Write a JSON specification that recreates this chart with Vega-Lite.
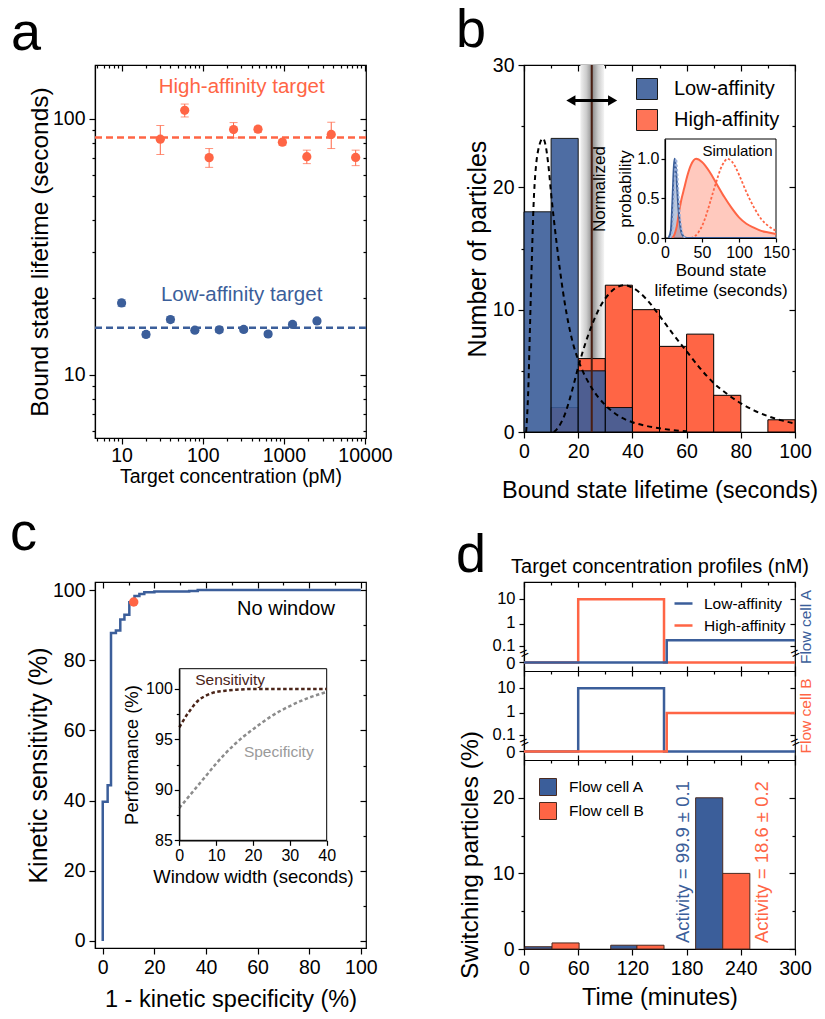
{
"$schema": "https://vega.github.io/schema/vega-lite/v6.json",
"padding": {"left": 9, "top": 3, "right": 0, "bottom": 0},
"config": {
 "font": "Liberation Sans",
 "view": {"stroke": "black", "strokeWidth": 1.2},
 "axis": {"grid": false, "domainColor": "black", "domainWidth": 1.2, "tickColor": "black", "tickWidth": 1.2, "labelColor": "black", "titleColor": "black", "labelFontSize": 19.5, "titleFontSize": 23.5, "titleFontWeight": "normal", "labelFlush": false, "labelOverlap": false, "labelPadding": 4, "titlePadding": 6},
 "legend": {"labelColor": "black"},
 "title": {"color": "black", "fontWeight": "normal", "fontSize": 54, "anchor": "start", "frame": "group", "baseline": "alphabetic"},
 "text": {"color": "black"}
},
"datasets": {
 "aPts": [
  {"conc": 30, "t": 83.1, "lo": 72.4, "hi": 94.0, "target": "High"},
  {"conc": 60, "t": 107.8, "lo": 101.5, "hi": 114.0, "target": "High"},
  {"conc": 120, "t": 70.4, "lo": 64.5, "hi": 76.4, "target": "High"},
  {"conc": 240, "t": 90.6, "lo": 84.1, "hi": 96.5, "target": "High"},
  {"conc": 480, "t": 90.9, "lo": 88.5, "hi": 93.3, "target": "High"},
  {"conc": 960, "t": 80.9, "lo": 78.8, "hi": 83.0, "target": "High"},
  {"conc": 1920, "t": 71.0, "lo": 66.7, "hi": 75.3, "target": "High"},
  {"conc": 3840, "t": 86.7, "lo": 76.4, "hi": 96.8, "target": "High"},
  {"conc": 7680, "t": 70.5, "lo": 65.5, "hi": 75.3, "target": "High"},
  {"conc": 10, "t": 19.05, "lo": 18.5, "hi": 19.6, "target": "Low"},
  {"conc": 20, "t": 14.35, "lo": 14.0, "hi": 14.7, "target": "Low"},
  {"conc": 40, "t": 16.4, "lo": 16.0, "hi": 16.8, "target": "Low"},
  {"conc": 80, "t": 14.9, "lo": 14.6, "hi": 15.2, "target": "Low"},
  {"conc": 160, "t": 14.95, "lo": 14.6, "hi": 15.3, "target": "Low"},
  {"conc": 320, "t": 15.0, "lo": 14.7, "hi": 15.3, "target": "Low"},
  {"conc": 640, "t": 14.4, "lo": 14.1, "hi": 14.7, "target": "Low"},
  {"conc": 1280, "t": 15.7, "lo": 15.4, "hi": 16.0, "target": "Low"},
  {"conc": 2560, "t": 16.2, "lo": 15.9, "hi": 16.5, "target": "Low"}
 ],
 "aMean": [{"target": "High", "t": 84.4}, {"target": "Low", "t": 15.24}],
 "bHist": [
  {"lo": 10, "hi": 20, "n": 2, "type": "High-affinity"},
  {"lo": 20, "hi": 30, "n": 6, "type": "High-affinity"},
  {"lo": 30, "hi": 40, "n": 12, "type": "High-affinity"},
  {"lo": 40, "hi": 50, "n": 10, "type": "High-affinity"},
  {"lo": 50, "hi": 60, "n": 7, "type": "High-affinity"},
  {"lo": 60, "hi": 70, "n": 8, "type": "High-affinity"},
  {"lo": 70, "hi": 80, "n": 3, "type": "High-affinity"},
  {"lo": 90, "hi": 100, "n": 1, "type": "High-affinity"},
  {"lo": 0, "hi": 10, "n": 18, "type": "Low-affinity"},
  {"lo": 10, "hi": 20, "n": 24, "type": "Low-affinity"},
  {"lo": 20, "hi": 30, "n": 5, "type": "Low-affinity"},
  {"lo": 30, "hi": 40, "n": 2, "type": "Low-affinity"}
 ],
 "bFit": [
  {"curve": "low", "x": 0.8, "y": 0}, {"curve": "low", "x": 1.5, "y": 3}, {"curve": "low", "x": 2.5, "y": 11}, {"curve": "low", "x": 3.7, "y": 19.4}, {"curve": "low", "x": 5.5, "y": 23.3}, {"curve": "low", "x": 7, "y": 24}, {"curve": "low", "x": 8, "y": 23.4}, {"curve": "low", "x": 9, "y": 21.8}, {"curve": "low", "x": 10, "y": 19.5}, {"curve": "low", "x": 12, "y": 15.5}, {"curve": "low", "x": 15, "y": 10.6}, {"curve": "low", "x": 18, "y": 7.3}, {"curve": "low", "x": 20, "y": 5.9}, {"curve": "low", "x": 25, "y": 3.6}, {"curve": "low", "x": 30, "y": 2.2}, {"curve": "low", "x": 35, "y": 1.3}, {"curve": "low", "x": 40, "y": 0.8}, {"curve": "low", "x": 45, "y": 0.5}, {"curve": "low", "x": 50, "y": 0.3}, {"curve": "low", "x": 55, "y": 0.15}, {"curve": "low", "x": 60, "y": 0.05},
  {"curve": "high", "x": 11, "y": 0}, {"curve": "high", "x": 12, "y": 0.2}, {"curve": "high", "x": 15, "y": 1.4}, {"curve": "high", "x": 18, "y": 3.6}, {"curve": "high", "x": 20, "y": 5.3}, {"curve": "high", "x": 22, "y": 6.8}, {"curve": "high", "x": 25, "y": 8.7}, {"curve": "high", "x": 28, "y": 10.2}, {"curve": "high", "x": 31, "y": 11.2}, {"curve": "high", "x": 34, "y": 11.8}, {"curve": "high", "x": 37, "y": 12.0}, {"curve": "high", "x": 40, "y": 11.8}, {"curve": "high", "x": 45, "y": 10.9}, {"curve": "high", "x": 50, "y": 9.5}, {"curve": "high", "x": 55, "y": 8.0}, {"curve": "high", "x": 60, "y": 6.6}, {"curve": "high", "x": 65, "y": 5.2}, {"curve": "high", "x": 70, "y": 4.0}, {"curve": "high", "x": 75, "y": 3.1}, {"curve": "high", "x": 80, "y": 2.35}, {"curve": "high", "x": 85, "y": 1.75}, {"curve": "high", "x": 90, "y": 1.3}, {"curve": "high", "x": 95, "y": 0.95}, {"curve": "high", "x": 100, "y": 0.7}
 ],
 "bSim": [
  {"curve": "highSolid", "x": 10, "p": 0}, {"curve": "highSolid", "x": 13, "p": 0.05}, {"curve": "highSolid", "x": 16, "p": 0.15}, {"curve": "highSolid", "x": 19, "p": 0.33}, {"curve": "highSolid", "x": 22, "p": 0.48}, {"curve": "highSolid", "x": 26, "p": 0.63}, {"curve": "highSolid", "x": 30, "p": 0.78}, {"curve": "highSolid", "x": 35, "p": 0.92}, {"curve": "highSolid", "x": 42, "p": 1.0}, {"curve": "highSolid", "x": 50, "p": 0.96}, {"curve": "highSolid", "x": 60, "p": 0.84}, {"curve": "highSolid", "x": 70, "p": 0.68}, {"curve": "highSolid", "x": 80, "p": 0.52}, {"curve": "highSolid", "x": 90, "p": 0.38}, {"curve": "highSolid", "x": 100, "p": 0.26}, {"curve": "highSolid", "x": 110, "p": 0.18}, {"curve": "highSolid", "x": 120, "p": 0.13}, {"curve": "highSolid", "x": 130, "p": 0.09}, {"curve": "highSolid", "x": 140, "p": 0.07}, {"curve": "highSolid", "x": 150, "p": 0.05},
  {"curve": "highDot", "x": 35, "p": 0}, {"curve": "highDot", "x": 40, "p": 0.02}, {"curve": "highDot", "x": 45, "p": 0.07}, {"curve": "highDot", "x": 50, "p": 0.15}, {"curve": "highDot", "x": 55, "p": 0.27}, {"curve": "highDot", "x": 60, "p": 0.42}, {"curve": "highDot", "x": 65, "p": 0.58}, {"curve": "highDot", "x": 70, "p": 0.73}, {"curve": "highDot", "x": 75, "p": 0.87}, {"curve": "highDot", "x": 80, "p": 0.96}, {"curve": "highDot", "x": 84, "p": 1.0}, {"curve": "highDot", "x": 90, "p": 0.97}, {"curve": "highDot", "x": 95, "p": 0.9}, {"curve": "highDot", "x": 100, "p": 0.8}, {"curve": "highDot", "x": 110, "p": 0.58}, {"curve": "highDot", "x": 120, "p": 0.39}, {"curve": "highDot", "x": 130, "p": 0.24}, {"curve": "highDot", "x": 140, "p": 0.15}, {"curve": "highDot", "x": 150, "p": 0.09},
  {"curve": "lowSolid", "x": 5, "p": 0}, {"curve": "lowSolid", "x": 8, "p": 0.1}, {"curve": "lowSolid", "x": 10, "p": 0.45}, {"curve": "lowSolid", "x": 12, "p": 0.9}, {"curve": "lowSolid", "x": 13, "p": 1.0}, {"curve": "lowSolid", "x": 14, "p": 0.95}, {"curve": "lowSolid", "x": 16, "p": 0.7}, {"curve": "lowSolid", "x": 18, "p": 0.4}, {"curve": "lowSolid", "x": 20, "p": 0.2}, {"curve": "lowSolid", "x": 22, "p": 0.08}, {"curve": "lowSolid", "x": 25, "p": 0.02}, {"curve": "lowSolid", "x": 30, "p": 0}, {"curve": "lowSolid", "x": 150, "p": 0},
  {"curve": "lowDot", "x": 7, "p": 0}, {"curve": "lowDot", "x": 10, "p": 0.1}, {"curve": "lowDot", "x": 12, "p": 0.5}, {"curve": "lowDot", "x": 14, "p": 0.9}, {"curve": "lowDot", "x": 15, "p": 1.0}, {"curve": "lowDot", "x": 16, "p": 0.92}, {"curve": "lowDot", "x": 18, "p": 0.6}, {"curve": "lowDot", "x": 20, "p": 0.3}, {"curve": "lowDot", "x": 23, "p": 0.08}, {"curve": "lowDot", "x": 27, "p": 0}
 ],
 "cRoc": [
  {"fpr": 0, "tpr": 0}, {"fpr": 0, "tpr": 39.7}, {"fpr": 1.9, "tpr": 44.4}, {"fpr": 3.2, "tpr": 87.8}, {"fpr": 5.1, "tpr": 88.5}, {"fpr": 6.8, "tpr": 91.6}, {"fpr": 8.4, "tpr": 93.0}, {"fpr": 10.3, "tpr": 96.5}, {"fpr": 12.3, "tpr": 98.3}, {"fpr": 14.2, "tpr": 98.9}, {"fpr": 16.1, "tpr": 99.4}, {"fpr": 20, "tpr": 99.6}, {"fpr": 33.5, "tpr": 99.7}, {"fpr": 36.8, "tpr": 100}, {"fpr": 100, "tpr": 100}
 ],
 "cDot": [{"fpr": 12, "tpr": 96.6}],
 "cWin": [
  {"metric": "Sensitivity", "w": 0, "perf": 96.2}, {"metric": "Sensitivity", "w": 1, "perf": 96.8}, {"metric": "Sensitivity", "w": 2, "perf": 97.4}, {"metric": "Sensitivity", "w": 3, "perf": 97.9}, {"metric": "Sensitivity", "w": 4, "perf": 98.4}, {"metric": "Sensitivity", "w": 5, "perf": 98.8}, {"metric": "Sensitivity", "w": 7, "perf": 99.3}, {"metric": "Sensitivity", "w": 9, "perf": 99.6}, {"metric": "Sensitivity", "w": 12, "perf": 99.8}, {"metric": "Sensitivity", "w": 15, "perf": 99.9}, {"metric": "Sensitivity", "w": 20, "perf": 100}, {"metric": "Sensitivity", "w": 30, "perf": 100}, {"metric": "Sensitivity", "w": 40, "perf": 100},
  {"metric": "Specificity", "w": 0, "perf": 88.2}, {"metric": "Specificity", "w": 2.5, "perf": 89.3}, {"metric": "Specificity", "w": 5, "perf": 90.4}, {"metric": "Specificity", "w": 7.5, "perf": 91.5}, {"metric": "Specificity", "w": 10, "perf": 92.6}, {"metric": "Specificity", "w": 12.5, "perf": 93.6}, {"metric": "Specificity", "w": 15, "perf": 94.5}, {"metric": "Specificity", "w": 17.5, "perf": 95.3}, {"metric": "Specificity", "w": 20, "perf": 96.0}, {"metric": "Specificity", "w": 25, "perf": 97.3}, {"metric": "Specificity", "w": 30, "perf": 98.3}, {"metric": "Specificity", "w": 35, "perf": 99.1}, {"metric": "Specificity", "w": 40, "perf": 99.7}
 ],
 "dProf": [
  {"cell": "A", "target": "High-affinity", "t": 0, "c": 0}, {"cell": "A", "target": "High-affinity", "t": 60, "c": 10}, {"cell": "A", "target": "High-affinity", "t": 155, "c": 0}, {"cell": "A", "target": "High-affinity", "t": 300, "c": 0},
  {"cell": "A", "target": "Low-affinity", "t": 0, "c": 0}, {"cell": "A", "target": "Low-affinity", "t": 158, "c": 0.2}, {"cell": "A", "target": "Low-affinity", "t": 300, "c": 0.2},
  {"cell": "B", "target": "Low-affinity", "t": 0, "c": 0}, {"cell": "B", "target": "Low-affinity", "t": 60, "c": 10}, {"cell": "B", "target": "Low-affinity", "t": 155, "c": 0}, {"cell": "B", "target": "Low-affinity", "t": 300, "c": 0},
  {"cell": "B", "target": "High-affinity", "t": 0, "c": 0}, {"cell": "B", "target": "High-affinity", "t": 158, "c": 1}, {"cell": "B", "target": "High-affinity", "t": 300, "c": 1}
 ],
 "dSw": [
  {"cell": "Flow cell A", "t0": 1, "t1": 31, "pct": 0.3},
  {"cell": "Flow cell B", "t0": 31, "t1": 61, "pct": 0.8},
  {"cell": "Flow cell A", "t0": 96, "t1": 125, "pct": 0.5},
  {"cell": "Flow cell B", "t0": 125, "t1": 155, "pct": 0.5},
  {"cell": "Flow cell A", "t0": 190, "t1": 220, "pct": 20},
  {"cell": "Flow cell B", "t0": 220, "t1": 250, "pct": 10}
 ]
},
"concat": [
 {
  "width": 271, "height": 373,
  "title": {"text": "a", "dx": -84, "offset": 3},
  "layer": [
   {"layer": [
    {"data": {"name": "aMean"},
     "mark": {"type": "rule", "strokeDash": [7, 4], "strokeWidth": 2.5},
     "encoding": {
      "y": {"field": "t", "type": "quantitative", "scale": {"type": "log", "domain": [5.65, 162], "nice": false}, "title": "Bound state lifetime (seconds)",
        "axis": {"values": [6,7,8,9,10,20,30,40,50,60,70,80,90,100], "format": "d", "titleFontSize": 24.5, "titlePadding": 0, "labelExpr": "(datum.value == 10 || datum.value == 100) ? datum.label : ''", "tickSize": {"condition": {"test": "datum.value == 10 || datum.value == 100", "value": 6}, "value": 3}}},
      "color": {"field": "target", "type": "nominal", "scale": {"domain": ["High", "Low"], "range": ["#FF6545", "#3B5E9A"]}, "legend": null}
     }},
    {"data": {"name": "aPts"},
     "mark": {"type": "rule", "strokeWidth": 1},
     "encoding": {
      "x": {"field": "conc", "type": "quantitative", "scale": {"type": "log", "domain": [4.7, 10300], "nice": false}, "title": "Target concentration (pM)",
        "axis": {"values": [5,6,7,8,9,10,20,30,40,50,60,70,80,90,100,200,300,400,500,600,700,800,900,1000,2000,3000,4000,5000,6000,7000,8000,9000,10000], "format": "d", "titleFontSize": 19.5, "titlePadding": 3, "labelPadding": 2, "labelExpr": "(datum.value == 10 || datum.value == 100 || datum.value == 1000 || datum.value == 10000) ? datum.label : ''", "tickSize": {"condition": {"test": "datum.value == 10 || datum.value == 100 || datum.value == 1000 || datum.value == 10000", "value": 6}, "value": 3}}},
      "y": {"field": "lo", "type": "quantitative", "scale": {"type": "log", "domain": [5.65, 162], "nice": false}, "title": "Bound state lifetime (seconds)"},
      "y2": {"field": "hi"},
      "color": {"field": "target", "type": "nominal", "scale": {"domain": ["High", "Low"], "range": ["#FF6545", "#3B5E9A"]}, "legend": null}
     }},
    {"data": {"name": "aPts"},
     "mark": {"type": "tick", "orient": "horizontal", "size": 8, "thickness": 1},
     "encoding": {
      "x": {"field": "conc", "type": "quantitative", "scale": {"type": "log", "domain": [4.7, 10300], "nice": false}, "title": "Target concentration (pM)"},
      "y": {"field": "lo", "type": "quantitative", "scale": {"type": "log", "domain": [5.65, 162], "nice": false}, "title": "Bound state lifetime (seconds)"},
      "color": {"field": "target", "type": "nominal", "scale": {"domain": ["High", "Low"], "range": ["#FF6545", "#3B5E9A"]}, "legend": null}
     }},
    {"data": {"name": "aPts"},
     "mark": {"type": "tick", "orient": "horizontal", "size": 8, "thickness": 1},
     "encoding": {
      "x": {"field": "conc", "type": "quantitative", "scale": {"type": "log", "domain": [4.7, 10300], "nice": false}, "title": "Target concentration (pM)"},
      "y": {"field": "hi", "type": "quantitative", "scale": {"type": "log", "domain": [5.65, 162], "nice": false}, "title": "Bound state lifetime (seconds)"},
      "color": {"field": "target", "type": "nominal", "scale": {"domain": ["High", "Low"], "range": ["#FF6545", "#3B5E9A"]}, "legend": null}
     }},
    {"data": {"name": "aPts"},
     "mark": {"type": "circle", "size": 85, "opacity": 1},
     "encoding": {
      "x": {"field": "conc", "type": "quantitative", "scale": {"type": "log", "domain": [4.7, 10300], "nice": false}, "title": "Target concentration (pM)"},
      "y": {"field": "t", "type": "quantitative", "scale": {"type": "log", "domain": [5.65, 162], "nice": false}, "title": "Bound state lifetime (seconds)"},
      "color": {"field": "target", "type": "nominal", "scale": {"domain": ["High", "Low"], "range": ["#FF6545", "#3B5E9A"]}, "legend": null}
     }},
    {"data": {"values": [{}]},
     "mark": {"type": "text", "fontSize": 20.5, "color": "#FF6545"},
     "encoding": {"x": {"datum": 302, "type": "quantitative", "title": "Target concentration (pM)"}, "y": {"datum": 132.8, "type": "quantitative", "title": "Bound state lifetime (seconds)"}, "text": {"value": "High-affinity target"}}},
    {"data": {"values": [{}]},
     "mark": {"type": "text", "fontSize": 20.5, "color": "#3B5E9A"},
     "encoding": {"x": {"datum": 302, "type": "quantitative", "title": "Target concentration (pM)"}, "y": {"datum": 20.4, "type": "quantitative", "title": "Bound state lifetime (seconds)"}, "text": {"value": "Low-affinity target"}}}
   ]},
   {"data": {"name": "aPts"},
    "mark": {"type": "point", "opacity": 0},
    "encoding": {
     "x": {"field": "conc", "type": "quantitative", "scale": {"type": "log", "domain": [4.7, 10300], "nice": false},
       "axis": {"orient": "top", "labels": false, "domain": false, "title": null, "values": [5,6,7,8,9,10,20,30,40,50,60,70,80,90,100,200,300,400,500,600,700,800,900,1000,2000,3000,4000,5000,6000,7000,8000,9000,10000], "tickSize": {"condition": {"test": "datum.value == 10 || datum.value == 100 || datum.value == 1000 || datum.value == 10000", "value": -6}, "value": -3}}},
     "y": {"field": "t", "type": "quantitative", "scale": {"type": "log", "domain": [5.65, 162], "nice": false},
       "axis": {"orient": "right", "labels": false, "domain": false, "title": null, "values": [6,7,8,9,10,20,30,40,50,60,70,80,90,100], "tickSize": {"condition": {"test": "datum.value == 10 || datum.value == 100", "value": -6}, "value": -3}}}
    }}
  ],
  "resolve": {"axis": {"x": "independent", "y": "independent"}}
 },
 {
  "width": 271, "height": 367,
  "title": {"text": "b", "dx": -68, "offset": -3},
  "layer": [
   {"layer": [
    {"data": {"values": [{}]},
     "mark": {"type": "rect", "fill": {"gradient": "linear", "x1": 0, "y1": 0, "x2": 1, "y2": 0, "stops": [{"offset": 0, "color": "#f0f0f0"}, {"offset": 0.25, "color": "#cdcdcd"}, {"offset": 0.5, "color": "#8c8c8c"}, {"offset": 0.75, "color": "#cdcdcd"}, {"offset": 1, "color": "#f4f4f4"}]}},
     "encoding": {
      "x": {"datum": 20.8, "type": "quantitative", "scale": {"domain": [0, 100], "nice": false}, "title": "Bound state lifetime (seconds)",
        "axis": {"values": [0,10,20,30,40,50,60,70,80,90,100], "titlePadding": 18, "labelExpr": "datum.value % 20 == 0 ? datum.label : ''", "tickSize": {"condition": {"test": "datum.value % 20 == 0", "value": 6}, "value": 3}}},
      "x2": {"datum": 29.6},
      "y": {"datum": 0, "type": "quantitative", "scale": {"domain": [0, 30], "nice": false}, "title": "Number of particles",
        "axis": {"values": [0,5,10,15,20,25,30], "titleFontSize": 25, "titlePadding": 2, "labelExpr": "datum.value % 10 == 0 ? datum.label : ''", "tickSize": {"condition": {"test": "datum.value % 10 == 0", "value": 6}, "value": 3}}},
      "y2": {"datum": 30}
     }},
    {"data": {"name": "bHist"},
     "transform": [{"filter": "datum.type == 'High-affinity'"}],
     "mark": {"type": "rect", "stroke": "black", "strokeWidth": 1, "opacity": 1},
     "encoding": {
      "x": {"field": "lo", "type": "quantitative", "scale": {"domain": [0, 100], "nice": false}, "title": "Bound state lifetime (seconds)"},
      "x2": {"field": "hi"},
      "y": {"field": "n", "type": "quantitative", "scale": {"domain": [0, 30], "nice": false}, "title": "Number of particles"},
      "y2": {"datum": 0},
      "color": {"field": "type", "type": "nominal", "scale": {"domain": ["Low-affinity", "High-affinity"], "range": ["#3B5E9A", "#FF6545"]},
        "legend": {"orient": "none", "legendX": 112, "legendY": 13, "title": null, "symbolType": "square", "symbolSize": 441, "symbolStrokeColor": "black", "symbolStrokeWidth": 1, "symbolOpacity": 1, "labelFontSize": 20, "rowPadding": 5, "labelOffset": 16}}
     }},
    {"data": {"name": "bHist"},
     "transform": [{"filter": "datum.type == 'Low-affinity'"}],
     "mark": {"type": "rect", "stroke": "black", "strokeWidth": 1, "opacity": 0.9},
     "encoding": {
      "x": {"field": "lo", "type": "quantitative", "scale": {"domain": [0, 100], "nice": false}, "title": "Bound state lifetime (seconds)"},
      "x2": {"field": "hi"},
      "y": {"field": "n", "type": "quantitative", "scale": {"domain": [0, 30], "nice": false}, "title": "Number of particles"},
      "y2": {"datum": 0},
      "color": {"field": "type", "type": "nominal", "scale": {"domain": ["Low-affinity", "High-affinity"], "range": ["#3B5E9A", "#FF6545"]}}
     }},
    {"data": {"values": [{}]},
     "mark": {"type": "rule", "color": "#4A1E12", "strokeWidth": 2},
     "encoding": {"x": {"datum": 25, "type": "quantitative", "title": "Bound state lifetime (seconds)"}}},
    {"data": {"name": "bFit"},
     "mark": {"type": "line", "color": "black", "strokeDash": [5, 4], "strokeWidth": 2, "interpolate": "monotone"},
     "encoding": {
      "x": {"field": "x", "type": "quantitative", "scale": {"domain": [0, 100], "nice": false}, "title": "Bound state lifetime (seconds)"},
      "y": {"field": "y", "type": "quantitative", "scale": {"domain": [0, 30], "nice": false}, "title": "Number of particles"},
      "detail": {"field": "curve"}
     }},
    {"data": {"values": [{}]},
     "mark": {"type": "rule", "color": "black", "strokeWidth": 3},
     "encoding": {"x": {"datum": 17.3, "type": "quantitative", "title": "Bound state lifetime (seconds)"}, "x2": {"datum": 32.7}, "y": {"datum": 27.1, "type": "quantitative", "title": "Number of particles"}}},
    {"data": {"values": [{}]},
     "mark": {"type": "point", "shape": "triangle-left", "size": 110, "filled": true, "color": "black", "opacity": 1},
     "encoding": {"x": {"datum": 17.3, "type": "quantitative", "title": "Bound state lifetime (seconds)"}, "y": {"datum": 27.1, "type": "quantitative", "title": "Number of particles"}}},
    {"data": {"values": [{}]},
     "mark": {"type": "point", "shape": "triangle-right", "size": 110, "filled": true, "color": "black", "opacity": 1},
     "encoding": {"x": {"datum": 32.7, "type": "quantitative", "title": "Bound state lifetime (seconds)"}, "y": {"datum": 27.1, "type": "quantitative", "title": "Number of particles"}}}
   ]},
   {"data": {"name": "bHist"},
    "mark": {"type": "point", "opacity": 0},
    "encoding": {
     "x": {"field": "lo", "type": "quantitative", "scale": {"domain": [0, 100], "nice": false},
       "axis": {"orient": "top", "labels": false, "domain": false, "title": null, "values": [0,10,20,30,40,50,60,70,80,90,100], "tickSize": {"condition": {"test": "datum.value % 20 == 0", "value": -6}, "value": -3}}},
     "y": {"field": "n", "type": "quantitative", "scale": {"domain": [0, 30], "nice": false},
       "axis": {"orient": "right", "labels": false, "domain": false, "title": null, "values": [0,5,10,15,20,25,30], "tickSize": {"condition": {"test": "datum.value % 10 == 0", "value": -6}, "value": -3}}}
    }},
   {"layer": [
    {"data": {"values": [{}]},
     "mark": {"type": "rect", "fill": "white", "stroke": "black", "strokeWidth": 1},
     "encoding": {
      "x": {"datum": 0, "type": "quantitative", "scale": {"domain": [0, 150], "range": [141, 252], "nice": false, "zero": false}, "title": ["Bound state", "lifetime (seconds)"],
        "axis": {"orient": "bottom", "offset": -194, "zindex": 1, "values": [0, 50, 100, 150], "labelFontSize": 16, "tickSize": 4, "labelPadding": 2, "titleFontSize": 17, "titlePadding": 2, "titleLineHeight": 20}},
      "x2": {"datum": 150},
      "y": {"datum": 0, "type": "quantitative", "scale": {"domain": [0, 1.25], "range": [173, 74], "nice": false, "zero": false}, "title": ["Normalized", "probability"],
        "axis": {"orient": "left", "offset": -141, "zindex": 1, "values": [0, 0.5, 1], "format": ".1f", "labelFontSize": 16, "tickSize": 4, "labelPadding": 2, "titleFontSize": 17, "titlePadding": 2, "titleLineHeight": 26}},
      "y2": {"datum": 1.25}
     }},
    {"data": {"name": "bSim"},
     "transform": [{"filter": "datum.curve == 'highSolid'"}],
     "mark": {"type": "area", "color": "#FF6545", "opacity": 0.35, "interpolate": "monotone"},
     "encoding": {"x": {"field": "x", "type": "quantitative", "title": ["Bound state", "lifetime (seconds)"]}, "y": {"field": "p", "type": "quantitative", "title": ["Normalized", "probability"]}}},
    {"data": {"name": "bSim"},
     "transform": [{"filter": "datum.curve == 'lowSolid'"}],
     "mark": {"type": "area", "color": "#3B5E9A", "opacity": 0.35, "interpolate": "monotone"},
     "encoding": {"x": {"field": "x", "type": "quantitative", "title": ["Bound state", "lifetime (seconds)"]}, "y": {"field": "p", "type": "quantitative", "title": ["Normalized", "probability"]}}},
    {"data": {"name": "bSim"},
     "transform": [{"filter": "datum.curve == 'highSolid'"}],
     "mark": {"type": "line", "color": "#FF6545", "strokeWidth": 2, "interpolate": "monotone"},
     "encoding": {"x": {"field": "x", "type": "quantitative", "title": ["Bound state", "lifetime (seconds)"]}, "y": {"field": "p", "type": "quantitative", "title": ["Normalized", "probability"]}}},
    {"data": {"name": "bSim"},
     "transform": [{"filter": "datum.curve == 'highDot'"}],
     "mark": {"type": "line", "color": "#FF6545", "strokeWidth": 1.8, "strokeDash": [2.5, 2], "interpolate": "monotone"},
     "encoding": {"x": {"field": "x", "type": "quantitative", "title": ["Bound state", "lifetime (seconds)"]}, "y": {"field": "p", "type": "quantitative", "title": ["Normalized", "probability"]}}},
    {"data": {"name": "bSim"},
     "transform": [{"filter": "datum.curve == 'lowSolid'"}],
     "mark": {"type": "line", "color": "#3B5E9A", "strokeWidth": 2, "interpolate": "monotone"},
     "encoding": {"x": {"field": "x", "type": "quantitative", "title": ["Bound state", "lifetime (seconds)"]}, "y": {"field": "p", "type": "quantitative", "title": ["Normalized", "probability"]}}},
    {"data": {"name": "bSim"},
     "transform": [{"filter": "datum.curve == 'lowDot'"}],
     "mark": {"type": "line", "color": "#9DB3DD", "strokeWidth": 1.8, "strokeDash": [2.5, 2], "interpolate": "monotone"},
     "encoding": {"x": {"field": "x", "type": "quantitative", "title": ["Bound state", "lifetime (seconds)"]}, "y": {"field": "p", "type": "quantitative", "title": ["Normalized", "probability"]}}},
    {"data": {"values": [{}]},
     "mark": {"type": "text", "fontSize": 15},
     "encoding": {"x": {"datum": 98, "type": "quantitative", "title": ["Bound state", "lifetime (seconds)"]}, "y": {"datum": 1.1, "type": "quantitative", "title": ["Normalized", "probability"]}, "text": {"value": "Simulation"}}}
   ]}
  ],
  "resolve": {"scale": {"x": "independent", "y": "independent"}, "axis": {"x": "independent", "y": "independent"}}
 },
 {
  "width": 271, "height": 366,
  "title": {"text": "c", "dx": -85, "offset": 19},
  "layer": [
   {"layer": [
    {"data": {"name": "cRoc"},
     "mark": {"type": "line", "interpolate": "step-after", "color": "#3B5E9A", "strokeWidth": 2.5},
     "encoding": {
      "x": {"field": "fpr", "type": "quantitative", "scale": {"domain": [-3, 102], "nice": false, "zero": false}, "title": "1 - kinetic specificity (%)",
        "axis": {"values": [0,10,20,30,40,50,60,70,80,90,100], "titlePadding": 11, "labelExpr": "datum.value % 20 == 0 ? datum.label : ''", "tickSize": {"condition": {"test": "datum.value % 20 == 0", "value": 6}, "value": 3}}},
      "y": {"field": "tpr", "type": "quantitative", "scale": {"domain": [-2, 102.3], "nice": false, "zero": false}, "title": "Kinetic sensitivity (%)",
        "axis": {"values": [0,10,20,30,40,50,60,70,80,90,100], "titleFontSize": 25, "titlePadding": 1, "labelExpr": "datum.value % 20 == 0 ? datum.label : ''", "tickSize": {"condition": {"test": "datum.value % 20 == 0", "value": 6}, "value": 3}}}
     }},
    {"data": {"name": "cDot"},
     "mark": {"type": "circle", "size": 90, "color": "#FF6545", "opacity": 1},
     "encoding": {
      "x": {"field": "fpr", "type": "quantitative", "scale": {"domain": [-3, 102], "nice": false, "zero": false}, "title": "1 - kinetic specificity (%)"},
      "y": {"field": "tpr", "type": "quantitative", "scale": {"domain": [-2, 102.3], "nice": false, "zero": false}, "title": "Kinetic sensitivity (%)"}
     }},
    {"data": {"values": [{}]},
     "mark": {"type": "text", "fontSize": 20},
     "encoding": {"x": {"datum": 71, "type": "quantitative", "title": "1 - kinetic specificity (%)"}, "y": {"datum": 94.5, "type": "quantitative", "title": "Kinetic sensitivity (%)"}, "text": {"value": "No window"}}}
   ]},
   {"data": {"name": "cRoc"},
    "mark": {"type": "point", "opacity": 0},
    "encoding": {
     "x": {"field": "fpr", "type": "quantitative", "scale": {"domain": [-3, 102], "nice": false, "zero": false},
       "axis": {"orient": "top", "labels": false, "domain": false, "title": null, "values": [0,10,20,30,40,50,60,70,80,90,100], "tickSize": {"condition": {"test": "datum.value % 20 == 0", "value": -6}, "value": -3}}},
     "y": {"field": "tpr", "type": "quantitative", "scale": {"domain": [-2, 102.3], "nice": false, "zero": false},
       "axis": {"orient": "right", "labels": false, "domain": false, "title": null, "values": [0,10,20,30,40,50,60,70,80,90,100], "tickSize": {"condition": {"test": "datum.value % 20 == 0", "value": -6}, "value": -3}}}
    }},
   {"layer": [
    {"data": {"values": [{}]},
     "mark": {"type": "rect", "fill": "white", "stroke": "black", "strokeWidth": 1},
     "encoding": {
      "x": {"datum": 0, "type": "quantitative", "scale": {"domain": [0, 40], "range": [84.3, 231.7], "nice": false, "zero": false}, "title": "Window width (seconds)",
        "axis": {"orient": "bottom", "offset": -107.7, "zindex": 1, "values": [0,5,10,15,20,25,30,35,40], "labelExpr": "datum.value % 10 == 0 ? datum.label : ''", "tickSize": {"condition": {"test": "datum.value % 10 == 0", "value": 5}, "value": 3}, "labelFontSize": 16, "labelPadding": 2, "titleFontSize": 18.5, "titlePadding": 4}},
      "x2": {"datum": 40},
      "y": {"datum": 85, "type": "quantitative", "scale": {"domain": [85, 102], "range": [258.3, 86.7], "nice": false, "zero": false}, "title": "Performance (%)",
        "axis": {"orient": "left", "offset": -84.3, "zindex": 1, "values": [85, 87.5, 90, 92.5, 95, 97.5, 100], "format": "d", "labelExpr": "datum.value % 5 == 0 ? datum.label : ''", "tickSize": {"condition": {"test": "datum.value % 5 == 0", "value": 5}, "value": 3}, "labelFontSize": 16, "labelPadding": 2, "titleFontSize": 18.5, "titlePadding": 4}},
      "y2": {"datum": 102}
     }},
    {"data": {"name": "cWin"},
     "transform": [{"filter": "datum.metric == 'Specificity'"}],
     "mark": {"type": "line", "color": "#8C8C8C", "strokeWidth": 2.5, "strokeDash": [3.5, 2.5], "interpolate": "monotone"},
     "encoding": {"x": {"field": "w", "type": "quantitative", "title": "Window width (seconds)"}, "y": {"field": "perf", "type": "quantitative", "title": "Performance (%)"}}},
    {"data": {"name": "cWin"},
     "transform": [{"filter": "datum.metric == 'Sensitivity'"}],
     "mark": {"type": "line", "color": "#4A2418", "strokeWidth": 2.5, "strokeDash": [3.5, 2.5], "interpolate": "monotone"},
     "encoding": {"x": {"field": "w", "type": "quantitative", "title": "Window width (seconds)"}, "y": {"field": "perf", "type": "quantitative", "title": "Performance (%)"}}},
    {"data": {"values": [{}]},
     "mark": {"type": "text", "fontSize": 15.5, "color": "#4A2418"},
     "encoding": {"x": {"datum": 13.8, "type": "quantitative", "title": "Window width (seconds)"}, "y": {"datum": 100.85, "type": "quantitative", "title": "Performance (%)"}, "text": {"value": "Sensitivity"}}},
    {"data": {"values": [{}]},
     "mark": {"type": "text", "fontSize": 15.5, "color": "#9A9A9A"},
     "encoding": {"x": {"datum": 27, "type": "quantitative", "title": "Window width (seconds)"}, "y": {"datum": 93.7, "type": "quantitative", "title": "Performance (%)"}, "text": {"value": "Specificity"}}}
   ]}
  ],
  "resolve": {"scale": {"x": "independent", "y": "independent"}, "axis": {"x": "independent", "y": "independent"}}
 },
 {
  "width": 271, "height": 367,
  "title": {"text": "d", "dx": -68, "offset": 0, "dy": 27},
  "layer": [
   {"layer": [
    {"data": {"name": "dProf"},
     "transform": [{"filter": "datum.cell == 'A' && datum.target == 'High-affinity'"}],
     "mark": {"type": "line", "interpolate": "step-after", "strokeWidth": 2.5},
     "encoding": {
      "x": {"field": "t", "type": "quantitative", "scale": {"domain": [0, 300], "nice": false, "zero": false}, "title": null,
        "axis": {"orient": "bottom", "offset": -278, "labels": false, "values": [0,30,60,90,120,150,180,210,240,270,300], "tickSize": {"condition": {"test": "datum.value % 60 == 0", "value": -5}, "value": -3}}},
      "y": {"field": "c", "type": "quantitative", "scale": {"type": "symlog", "constant": 0.03, "domain": [-0.036, 49], "range": [89, 0], "nice": false, "zero": false}, "title": null,
        "axis": {"orient": "left", "values": [0, 0.1, 1, 10], "format": "~g", "labelFontSize": 16.5, "labelOffset": {"condition": {"test": "datum.value == 0", "value": 1.5}, "value": -1}, "tickSize": 5}},
      "color": {"field": "target", "type": "nominal", "scale": {"domain": ["Low-affinity", "High-affinity"], "range": ["#3B5E9A", "#FF6545"]},
        "legend": {"orient": "none", "legendX": 149, "legendY": 11, "title": null, "symbolType": "stroke", "symbolStrokeWidth": 2.5, "symbolSize": 324, "labelFontSize": 15.5, "rowPadding": 3, "labelOffset": 10}}
     }},
    {"data": {"name": "dProf"},
     "transform": [{"filter": "datum.cell == 'A' && datum.target == 'Low-affinity'"}],
     "mark": {"type": "line", "interpolate": "step-after", "strokeWidth": 2.5},
     "encoding": {
      "x": {"field": "t", "type": "quantitative", "scale": {"domain": [0, 300], "nice": false, "zero": false}, "title": null},
      "y": {"field": "c", "type": "quantitative", "scale": {"type": "symlog", "constant": 0.03, "domain": [-0.036, 49], "range": [89, 0], "nice": false, "zero": false}, "title": null},
      "color": {"field": "target", "type": "nominal", "scale": {"domain": ["Low-affinity", "High-affinity"], "range": ["#3B5E9A", "#FF6545"]}}
     }},
    {"data": {"values": [{}]},
     "mark": {"type": "text", "fontSize": 15, "angle": -25},
     "encoding": {"x": {"datum": 0, "type": "quantitative", "title": null}, "y": {"datum": 0.04, "type": "quantitative", "title": null}, "text": {"value": "="}}},
    {"data": {"values": [{}]},
     "mark": {"type": "text", "fontSize": 15, "angle": -25},
     "encoding": {"x": {"datum": 300, "type": "quantitative", "title": null}, "y": {"datum": 0.04, "type": "quantitative", "title": null}, "text": {"value": "="}}}
   ]},
   {"data": {"name": "dProf"},
    "mark": {"type": "point", "opacity": 0},
    "encoding": {
     "x": {"field": "t", "type": "quantitative", "scale": {"domain": [0, 300], "nice": false, "zero": false}, "title": "Target concentration profiles (nM)",
       "axis": {"orient": "top", "labels": false, "domain": false, "values": [0,30,60,90,120,150,180,210,240,270,300], "tickSize": {"condition": {"test": "datum.value % 60 == 0", "value": -5}, "value": -3}, "titleFontSize": 20, "titlePadding": 5}},
     "y": {"field": "c", "type": "quantitative", "scale": {"type": "symlog", "constant": 0.03, "domain": [-0.036, 49], "range": [89, 0], "nice": false, "zero": false}, "title": "Flow cell A",
       "axis": {"orient": "right", "labels": false, "domain": false, "values": [0, 0.1, 1, 10], "tickSize": -5, "titleColor": "#3B5E9A", "titleAngle": 270, "titleFontSize": 15.5, "titlePadding": 18}}
    }},
   {"layer": [
    {"data": {"name": "dProf"},
     "transform": [{"filter": "datum.cell == 'B' && datum.target == 'Low-affinity'"}],
     "mark": {"type": "line", "interpolate": "step-after", "strokeWidth": 2.5},
     "encoding": {
      "x": {"field": "t", "type": "quantitative", "scale": {"domain": [0, 300], "nice": false, "zero": false}, "title": null,
        "axis": {"orient": "bottom", "offset": -189, "labels": false, "values": [0,30,60,90,120,150,180,210,240,270,300], "tickSize": {"condition": {"test": "datum.value % 60 == 0", "value": -5}, "value": -3}}},
      "y": {"field": "c", "type": "quantitative", "scale": {"type": "symlog", "constant": 0.03, "domain": [-0.036, 49], "range": [178, 89], "nice": false, "zero": false}, "title": null,
        "axis": {"orient": "left", "values": [0, 0.1, 1, 10], "format": "~g", "labelFontSize": 16.5, "labelOffset": {"condition": {"test": "datum.value == 0", "value": 1.5}, "value": -1}, "tickSize": 5}},
      "color": {"field": "target", "type": "nominal", "scale": {"domain": ["Low-affinity", "High-affinity"], "range": ["#3B5E9A", "#FF6545"]}, "legend": null}
     }},
    {"data": {"name": "dProf"},
     "transform": [{"filter": "datum.cell == 'B' && datum.target == 'High-affinity'"}],
     "mark": {"type": "line", "interpolate": "step-after", "strokeWidth": 2.5},
     "encoding": {
      "x": {"field": "t", "type": "quantitative", "scale": {"domain": [0, 300], "nice": false, "zero": false}, "title": null},
      "y": {"field": "c", "type": "quantitative", "scale": {"type": "symlog", "constant": 0.03, "domain": [-0.036, 49], "range": [178, 89], "nice": false, "zero": false}, "title": null},
      "color": {"field": "target", "type": "nominal", "scale": {"domain": ["Low-affinity", "High-affinity"], "range": ["#3B5E9A", "#FF6545"]}, "legend": null}
     }},
    {"data": {"values": [{}]},
     "mark": {"type": "text", "fontSize": 15, "angle": -25},
     "encoding": {"x": {"datum": 0, "type": "quantitative", "title": null}, "y": {"datum": 0.04, "type": "quantitative", "title": null}, "text": {"value": "="}}},
    {"data": {"values": [{}]},
     "mark": {"type": "text", "fontSize": 15, "angle": -25},
     "encoding": {"x": {"datum": 300, "type": "quantitative", "title": null}, "y": {"datum": 0.04, "type": "quantitative", "title": null}, "text": {"value": "="}}}
   ]},
   {"data": {"name": "dProf"},
    "mark": {"type": "point", "opacity": 0},
    "encoding": {
     "x": {"field": "t", "type": "quantitative", "scale": {"domain": [0, 300], "nice": false, "zero": false}, "title": null,
       "axis": {"orient": "top", "offset": -89, "labels": false, "domain": false, "values": [0,30,60,90,120,150,180,210,240,270,300], "tickSize": {"condition": {"test": "datum.value % 60 == 0", "value": -5}, "value": -3}}},
     "y": {"field": "c", "type": "quantitative", "scale": {"type": "symlog", "constant": 0.03, "domain": [-0.036, 49], "range": [178, 89], "nice": false, "zero": false}, "title": "Flow cell B",
       "axis": {"orient": "right", "labels": false, "domain": false, "values": [0, 0.1, 1, 10], "tickSize": -5, "titleColor": "#FF6545", "titleAngle": 270, "titleFontSize": 15.5, "titlePadding": 18}}
    }},
   {"layer": [
    {"data": {"name": "dSw"},
     "mark": {"type": "rect", "stroke": "#4A2A20", "strokeWidth": 1},
     "encoding": {
      "x": {"field": "t0", "type": "quantitative", "scale": {"domain": [0, 300], "nice": false, "zero": false}, "title": "Time (minutes)",
        "axis": {"orient": "bottom", "values": [0,30,60,90,120,150,180,210,240,270,300], "titlePadding": 8, "labelExpr": "datum.value % 60 == 0 ? datum.label : ''", "tickSize": {"condition": {"test": "datum.value % 60 == 0", "value": 6}, "value": 3}}},
      "x2": {"field": "t1"},
      "y": {"field": "pct", "type": "quantitative", "scale": {"domain": [0, 25], "range": [367, 178], "nice": false, "zero": false}, "title": "Switching particles (%)",
        "axis": {"orient": "left", "values": [0, 5, 10, 15, 20], "titleFontSize": 24.5, "titlePadding": 10, "labelExpr": "datum.value % 10 == 0 ? datum.label : ''", "tickSize": {"condition": {"test": "datum.value % 10 == 0", "value": 6}, "value": 3}}},
      "y2": {"datum": 0},
      "color": {"field": "cell", "type": "nominal", "scale": {"domain": ["Flow cell A", "Flow cell B"], "range": ["#3B5E9A", "#FF6545"]},
        "legend": {"orient": "none", "legendX": 15, "legendY": 196, "title": null, "symbolType": "square", "symbolSize": 289, "symbolStrokeColor": "#4A2A20", "symbolStrokeWidth": 1, "symbolOpacity": 1, "labelFontSize": 15.5, "rowPadding": 2, "labelOffset": 12}}
     }},
    {"data": {"values": [{}]},
     "mark": {"type": "text", "angle": 270, "fontSize": 18.5, "color": "#3B5E9A"},
     "encoding": {"x": {"datum": 176, "type": "quantitative", "title": "Time (minutes)"}, "y": {"datum": 11.5, "type": "quantitative", "title": "Switching particles (%)"}, "text": {"value": "Activity = 99.9 ± 0.1"}}},
    {"data": {"values": [{}]},
     "mark": {"type": "text", "angle": 270, "fontSize": 18.5, "color": "#FF6545"},
     "encoding": {"x": {"datum": 264, "type": "quantitative", "title": "Time (minutes)"}, "y": {"datum": 11.5, "type": "quantitative", "title": "Switching particles (%)"}, "text": {"value": "Activity = 18.6 ± 0.2"}}}
   ]},
   {"data": {"name": "dSw"},
    "mark": {"type": "point", "opacity": 0},
    "encoding": {
     "x": {"field": "t0", "type": "quantitative", "scale": {"domain": [0, 300], "nice": false, "zero": false}, "title": null,
       "axis": {"orient": "top", "offset": -178, "labels": false, "domain": false, "values": [0,30,60,90,120,150,180,210,240,270,300], "tickSize": {"condition": {"test": "datum.value % 60 == 0", "value": -5}, "value": -3}}},
     "y": {"field": "pct", "type": "quantitative", "scale": {"domain": [0, 25], "range": [367, 178], "nice": false, "zero": false}, "title": null,
       "axis": {"orient": "right", "labels": false, "domain": false, "values": [0, 5, 10, 15, 20], "tickSize": {"condition": {"test": "datum.value % 10 == 0", "value": -6}, "value": -3}}}
    }}
  ],
  "resolve": {"scale": {"y": "independent", "color": "independent"}, "axis": {"x": "independent", "y": "independent"}, "legend": {"color": "independent"}}
 }
],
"columns": 2,
"spacing": {"row": 144, "column": 158},
"bounds": "flush",
"resolve": {"scale": {"color": "independent"}, "legend": {"color": "independent"}}
}
